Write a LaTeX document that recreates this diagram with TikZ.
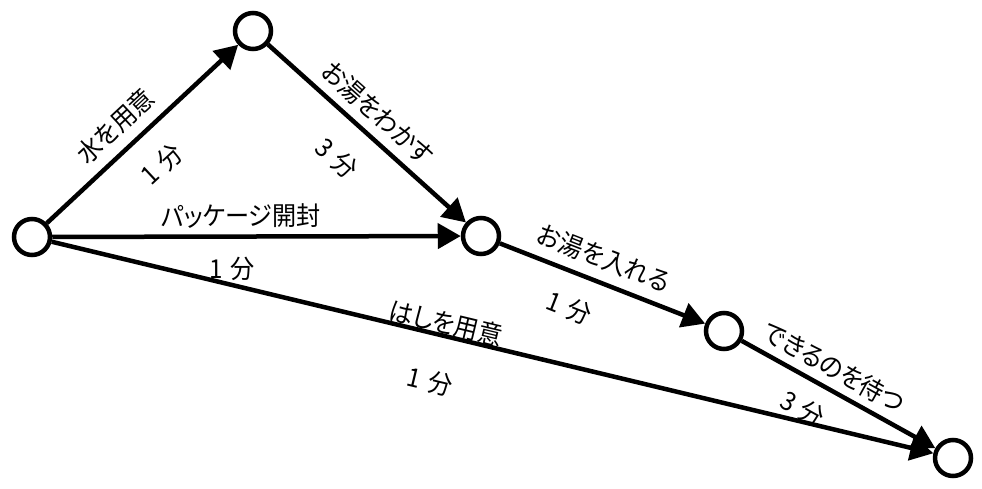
\documentclass[tikz,border=0pt]{standalone}
\usepackage{fontspec}
\setmainfont{Noto Sans CJK JP}[RawFeature=+palt, FakeStretch=0.93]
\usetikzlibrary{arrows.meta}
\tikzset{
  ev/.style={circle, draw=black, line width=4.5pt, minimum size=36pt, inner sep=0pt, fill=white},
  act/.style={line width=4.5pt, -{Triangle[length=23pt,width=25pt]}},
  lbl/.style={sloped, anchor=center, inner sep=0pt, font=\fontsize{26pt}{28pt}\selectfont},
}
\newcommand{\mins}[1]{#1\hspace{0.3em}分}
\begin{document}
\begin{tikzpicture}[x=1pt,y=-1pt]
\useasboundingbox (0,0) rectangle (982,489);
\node[ev] (A) at (32,237) {};
\node[ev] (B) at (253,31) {};
\node[ev] (C) at (481,236) {};
\node[ev] (D) at (724,331) {};
\node[ev] (E) at (953,458) {};
\draw[act] (A) -- node[lbl, pos=0.444, yshift=24.6pt] (l1) {水を用意}
                  node[lbl, pos=0.476, yshift=-35.3pt] (t1) {\mins{1}} (B);
\draw[act] (B) -- node[lbl, pos=0.479, yshift=22.6pt] (l2) {お湯をわかす}
                  node[lbl, pos=0.478, yshift=-38.3pt] (t2) {\mins{3}} (C);
\draw[act] (A) -- node[lbl, pos=0.462, yshift=20.5pt] (l3) {パッケージ開封}
                  node[lbl, pos=0.44, yshift=-32pt] (t3) {\mins{1}} (C);
\draw[act] (A) -- node[lbl, pos=0.444, yshift=13pt] (l4) {はしを用意}
                  node[lbl, pos=0.442, yshift=-47.7pt] (t4) {\mins{1}} (E);
\draw[act] (C) -- node[lbl, pos=0.464, yshift=24.3pt] (l5) {お湯を入れる}
                  node[lbl, pos=0.399, yshift=-35pt] (t5) {\mins{1}} (D);
\draw[act] (D) -- node[lbl, pos=0.423, yshift=21.4pt] (l6) {できるのを待つ}
                  node[lbl, pos=0.39, yshift=-30pt] (t6) {\mins{3}} (E);
\end{tikzpicture}
\end{document}
